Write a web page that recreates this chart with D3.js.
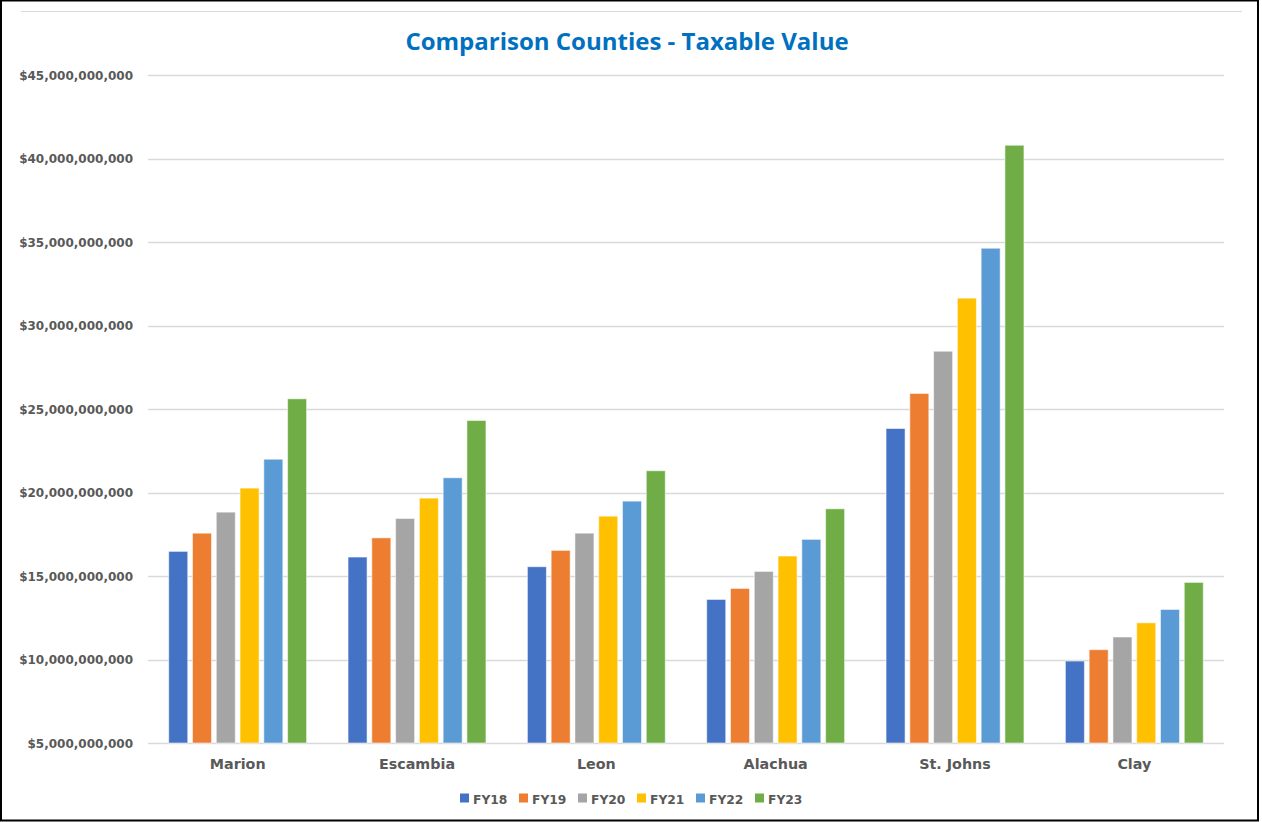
<!DOCTYPE html>
<html><head><meta charset="utf-8">
<script src="https://cdn.jsdelivr.net/npm/d3@7"></script>
<style>body{margin:0;background:#fff;}svg{display:block;}</style>
</head><body>
<svg id="c" width="1262" height="822"></svg>
<script>
const categories = ["Marion","Escambia","Leon","Alachua","St. Johns","Clay"];
const seriesNames = ["FY18","FY19","FY20","FY21","FY22","FY23"];
const colors = ["#4472C4","#ED7D31","#A5A5A5","#FFC000","#5B9BD5","#70AD47"];
// values in billions of dollars, one array per series (order follows categories)
const FY18 = [16.48, 16.14, 15.56, 13.60, 23.84, 9.91];
const FY19 = [17.57, 17.29, 16.54, 14.26, 25.94, 10.59];
const FY20 = [18.83, 18.45, 17.57, 15.28, 28.47, 11.35];
const FY21 = [20.27, 19.67, 18.59, 16.20, 31.65, 12.20];
const FY22 = [22.00, 20.89, 19.49, 17.20, 34.64, 13.00];
const FY23 = [25.62, 24.32, 21.31, 19.03, 40.81, 14.62];
const tickValues = [5e9,10e9,15e9,20e9,25e9,30e9,35e9,40e9,45e9];
const title = "Comparison Counties - Taxable Value";

const seriesValues = [FY18,FY19,FY20,FY21,FY22,FY23];
const svg = d3.select("#c");
const W = 1262, H = 822;
const plot = {left:148, right:1224, top:75.3, bottom:743};
const font = "'DejaVu Sans', Verdana, sans-serif";

// frame
svg.append("rect").attr("x",0).attr("y",0).attr("width",W).attr("height",H).attr("fill","#fff");
svg.append("line").attr("x1",21).attr("x2",1242).attr("y1",11.5).attr("y2",11.5).attr("stroke","#d9d9d9").attr("stroke-width",1.2);
svg.append("rect").attr("x",1).attr("y",0.5).attr("width",1257).attr("height",820).attr("fill","none").attr("stroke","#000").attr("stroke-width",2);

const y = d3.scaleLinear().domain([5e9,45e9]).range([plot.bottom, plot.top]);
const x0 = d3.scaleBand().domain(categories).range([plot.left, plot.right]);
const gw = x0.bandwidth();
const x1 = d3.scaleBand().domain(seriesNames).range([gw*0.1155, gw*0.1155 + 137.9]).paddingInner(0.2);

// gridlines
svg.append("g").selectAll("line").data(tickValues).join("line")
  .attr("x1",plot.left).attr("x2",plot.right)
  .attr("y1",d=>Math.round(y(d))+0.5).attr("y2",d=>Math.round(y(d))+0.5)
  .attr("stroke","#d9d9d9").attr("stroke-width",1.3);

// y axis labels
const fmt = d3.format("$,.0f");
const yAxis = d3.axisLeft(y).tickValues(tickValues).tickFormat(fmt).tickSize(0).tickPadding(15);
const ya = svg.append("g").attr("transform",`translate(${plot.left},0)`).call(yAxis);
ya.select(".domain").remove();
ya.selectAll("text").attr("font-family",font).attr("font-weight","bold").attr("font-size","12px").attr("fill","#595959").attr("dy","0.35em");

// bars
const data = [];
categories.forEach((c,i)=>seriesNames.forEach((s,j)=>data.push({c, s, j, v: seriesValues[j][i]*1e9})));
svg.append("g").selectAll("rect").data(data).join("rect")
  .attr("x",d=>x0(d.c)+x1(d.s))
  .attr("width",x1.bandwidth())
  .attr("y",d=>y(d.v))
  .attr("height",d=>y(5e9)-y(d.v))
  .attr("fill",d=>colors[d.j])
  .attr("stroke","#ffffff").attr("stroke-opacity",0.55).attr("stroke-width",1);

// x axis labels
const xAxis = d3.axisBottom(x0).tickSize(0).tickPadding(16);
const xa = svg.append("g").attr("transform",`translate(0,${plot.bottom})`).call(xAxis);
xa.select(".domain").remove();
xa.selectAll("text").attr("font-family",font).attr("font-weight","bold").attr("font-size","14.3px").attr("fill","#595959");

// title
svg.append("text").attr("x",627).attr("y",50).attr("text-anchor","middle")
  .attr("font-family","'Open Sans', sans-serif").attr("font-weight","bold").attr("font-size","24px")
  .attr("fill","#0070C0").text(title);

// legend
const lx = d3.scalePoint().domain(seriesNames).range([460,755]);
const lg = svg.append("g").selectAll("g").data(seriesNames).join("g")
  .attr("transform",d=>`translate(${lx(d)},0)`);
lg.append("rect").attr("x",0).attr("y",793.5).attr("width",9).attr("height",9).attr("fill",(d,i)=>colors[i]);
lg.append("text").attr("x",13).attr("y",803.5).attr("font-family",font).attr("font-weight","bold")
  .attr("font-size","12.3px").attr("fill","#595959").text(d=>d);
</script>
</body></html>
